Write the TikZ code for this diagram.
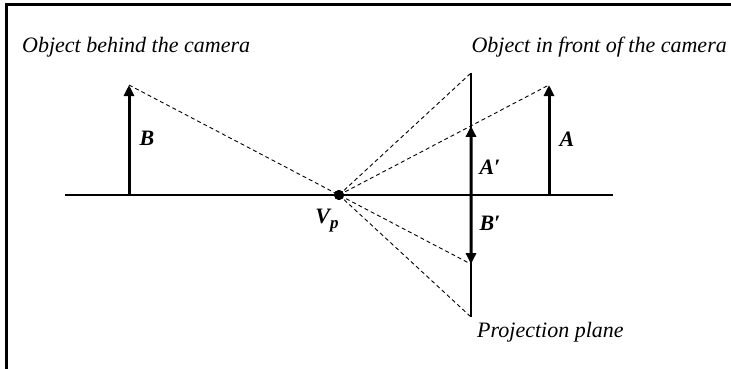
\documentclass[tikz,border=0pt]{standalone}
\usepackage{fontspec}
\setmainfont{Liberation Serif}
\usetikzlibrary{arrows.meta,calc}
\begin{document}
\begin{tikzpicture}[x=1pt,y=-1pt,
  lbl/.style={font=\fontsize{22}{26}\selectfont\itshape, inner sep=0pt},
  blbl/.style={font=\fontsize{22}{26}\selectfont\bfseries\itshape, inner sep=0pt},
  vec/.style={line width=3pt,-{Triangle[length=11pt,width=10pt]}},
  ray/.style={line width=0.9pt, dash pattern=on 4pt off 3pt},
  base/.style={line width=2pt}]
\useasboundingbox (0,0) rectangle (731,369);
% frame
\draw[line width=3pt] (6,372) -- (6,5) -- (734,5);
% key points
\coordinate (axL) at (65,195);
\coordinate (axR) at (613,195);
\coordinate (Bbase) at (129,195);
\coordinate (Btip) at (129,85);
\coordinate (Abase) at (549,195);
\coordinate (Atip) at (549,85);
\coordinate (Pbase) at (471,195);
\coordinate (Ptop) at (471,73);
\coordinate (Pbot) at (471,317);
\node[circle, fill, inner sep=0pt, minimum size=10pt] (vp) at (339,195) {};
\coordinate (Aptip) at ($(vp.center)!0.62857!(Atip)$);
\coordinate (Bptip) at ($(vp.center)!-0.62857!(Btip)$);
% axis and projection plane
\draw[base] (axL) -- (axR);
\draw[base] (Ptop) -- (Pbot);
% rays
\draw[ray] (Btip) -- (Bptip);
\draw[ray] (vp.center) -- (Atip);
\draw[ray] (vp.center) -- (Ptop);
\draw[ray] (vp.center) -- (Pbot);
% vectors
\draw[vec] (Bbase) -- (Btip);
\draw[vec] (Abase) -- (Atip);
\draw[vec] (Pbase) -- (Aptip);
\draw[vec] (Pbase) -- (Bptip);
\node[circle, fill, inner sep=0pt, minimum size=10pt] at (vp) {};
% labels
\node[lbl, anchor=base west] (tb) at (22,53) {Object behind the camera};
\node[lbl, anchor=base east] (tf) at (727,53) {Object in front of the camera};
\node[lbl, anchor=base west] (tp) at (477,337) {Projection plane};
\node[blbl] (lB) at (147,138) {B};
\node[blbl] (lA) at (567,139) {A};
\node[blbl] (lAp) at (490,167) {A′};
\node[blbl] (lBp) at (490,223) {B′};
\node[blbl, anchor=base] (lV) at (327,223) {V\raisebox{-5pt}{\fontsize{17}{17}\selectfont p}};
\end{tikzpicture}
\end{document}
